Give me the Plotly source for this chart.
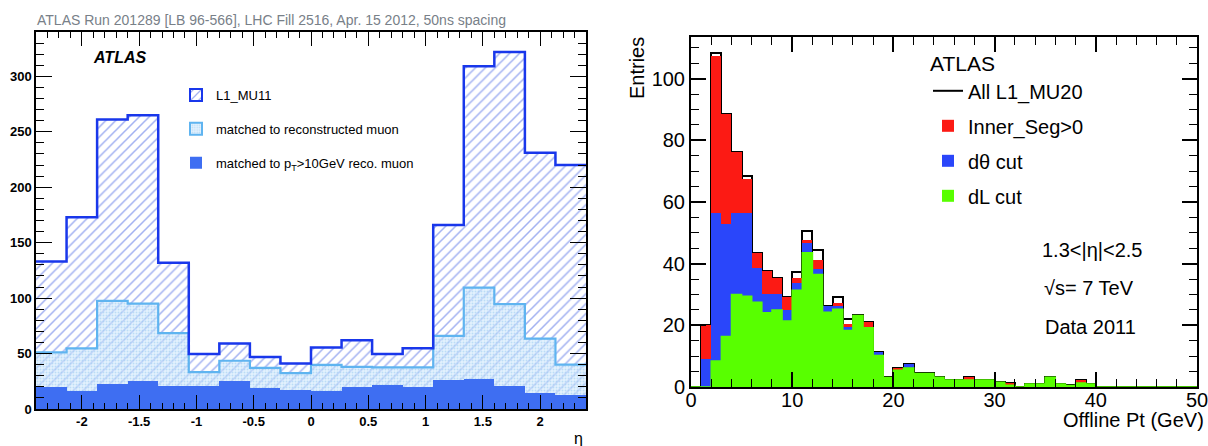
import numpy as np
import plotly.graph_objects as go

# ---------------- Left panel data (eta distribution) ----------------
eta_edges = np.linspace(-2.4, 2.4, 19)
l1_mu11 = [133, 173, 261, 265, 132, 49.5, 59, 47, 41, 55.5, 62, 49.5, 54.7, 166, 309, 322, 231, 220]
matched_reco = [51, 54.6, 97.5, 95, 68.5, 33.3, 43.5, 37, 32.4, 39.8, 38, 37.5, 37.5, 66, 109.5, 94.5, 63.5, 40]
matched_pt10 = [20, 16, 23, 25, 20.5, 20.5, 25, 18.5, 17, 16, 20, 21.5, 19.5, 26, 27, 21, 14, 12.5]
eta_tickvals = [-2, -1.5, -1, -0.5, 0, 0.5, 1, 1.5, 2]
eta_ticktext = ["-2", "-1.5", "-1", "-0.5", "0", "0.5", "1", "1.5", "2"]

# ---------------- Right panel data (offline pT) ----------------
pt_edges = np.arange(0, 51)
all_l1_mu20 = [0, 20.2, 108.3, 88.4, 76.2, 68.3, 43.5, 37.5, 35.3, 29.1,
               37.4, 50.5, 44.5, 26.4, 29.3, 22, 23.2, 21.2, 11.2, 3.1,
               6.2, 7.3, 4.4, 4.4, 3.2, 2.3, 2.3, 3.2, 2.3, 2.3,
               1.5, 1.3, 0, 1, 1, 3.2, 1, 0.5, 2.4, 1,
               0, 0, 0, 0, 0, 0, 0, 0, 0, 0]
inner_seg = [0, 20.2, 107.5, 88.4, 76.2, 67.4, 43.5, 37.5, 35.3, 29.1,
             35.3, 47.6, 41.3, 26.4, 27.1, 20.4, 23.2, 21.2, 11.2, 3.1,
             6.2, 7.3, 4.4, 4.4, 3.2, 2.3, 2.3, 3.2, 2.3, 2.3,
             1.5, 1.3, 0, 1, 1, 3.2, 1, 0.5, 2.4, 1,
             0, 0, 0, 0, 0, 0, 0, 0, 0, 0]
dtheta_cut = [0, 9.1, 56.5, 53, 56.5, 56.5, 38.5, 30.3, 30.3, 25,
              33.6, 46.6, 38.4, 26.4, 26.4, 19.3, 23.2, 19.2, 11.2, 3.1,
              5.4, 7.3, 4.4, 4.4, 3.2, 2.3, 2.3, 2.3, 2.3, 2.3,
              1.5, 0.6, 0, 1, 1, 3.2, 1, 0.5, 1.3, 1,
              0, 0, 0, 0, 0, 0, 0, 0, 0, 0]
dl_cut = [0, 0, 8.4, 16.4, 30, 29.4, 27.5, 24.1, 25, 21.4,
          31.4, 43.5, 36.5, 24.2, 25.2, 18.3, 23.2, 19.2, 10.2, 3.1,
          5.4, 6.2, 4.4, 4.4, 3.2, 2.3, 2.3, 2.3, 2.3, 2.3,
          1.5, 0.6, 0, 1, 1, 3.2, 1, 0.5, 1.3, 1,
          0, 0, 0, 0, 0, 0, 0, 0, 0, 0]

# ---------------- styling ----------------
W, H = 1208, 446
FONT = "Liberation Sans, Arial, Helvetica, sans-serif"
L1_LINE = "rgb(25,55,235)"
HATCH = "rgb(70,100,228)"
RECO_LINE = "rgb(95,180,240)"
RECO_DOT = "rgb(150,200,240)"
RECO_BG = "rgba(205,230,250,0.55)"
SOLID = "rgb(62,110,242)"
RED = "rgb(252,26,20)"
BLUE = "rgb(42,70,250)"
GREEN = "rgb(88,255,0)"


def px_x(p):
    return p / W


def px_y(p):
    return 1 - p / H


eta_centers = (eta_edges[:-1] + eta_edges[1:]) / 2
eta_w = float(eta_edges[1] - eta_edges[0])
pt_centers = (pt_edges[:-1] + pt_edges[1:]) / 2


def step_xy(edges, vals):
    return list(edges), list(vals) + [vals[-1]]


fig = go.Figure()

# ---- left panel bars ----
hatch_pattern = dict(shape="/", fgcolor=HATCH, bgcolor="white", size=7, solidity=0.22)
dot_pattern = dict(shape=".", fgcolor=RECO_DOT, bgcolor=RECO_BG, size=3, solidity=0.35)

fig.add_trace(go.Bar(x=eta_centers, y=l1_mu11, width=eta_w, xaxis="x", yaxis="y",
                     marker=dict(color="white", pattern=hatch_pattern, line=dict(width=0)),
                     showlegend=False, hoverinfo="skip"))
fig.add_trace(go.Bar(x=eta_centers, y=matched_reco, width=eta_w, xaxis="x", yaxis="y",
                     marker=dict(color=RECO_DOT, pattern=dot_pattern, line=dict(width=0)),
                     showlegend=False, hoverinfo="skip"))
fig.add_trace(go.Bar(x=eta_centers, y=matched_pt10, width=eta_w, xaxis="x", yaxis="y",
                     marker=dict(color=SOLID, line=dict(width=0)),
                     name="matched to p<sub>T</sub>>10GeV reco. muon",
                     legend="legend", legendgroup="c", legendrank=3, showlegend=True))
sx, sy = step_xy(eta_edges, matched_reco)
fig.add_trace(go.Scatter(x=sx, y=sy, mode="lines", line=dict(shape="hv", color=RECO_LINE, width=2.2),
                         xaxis="x", yaxis="y", showlegend=False, hoverinfo="skip"))
sx, sy = step_xy(eta_edges, l1_mu11)
fig.add_trace(go.Scatter(x=sx, y=sy, mode="lines", line=dict(shape="hv", color=L1_LINE, width=2.5),
                         xaxis="x", yaxis="y", showlegend=False, hoverinfo="skip"))
# legend keys for left panel
fig.add_trace(go.Bar(x=[None], y=[None], xaxis="x", yaxis="y", name="L1_MU11",
                     marker=dict(color="white", pattern=hatch_pattern, line=dict(color=L1_LINE, width=2)),
                     legend="legend", legendgroup="a", legendrank=1))
fig.add_trace(go.Bar(x=[None], y=[None], xaxis="x", yaxis="y", name="matched to reconstructed muon",
                     marker=dict(color=RECO_DOT, pattern=dot_pattern, line=dict(color=RECO_LINE, width=2)),
                     legend="legend", legendgroup="b", legendrank=2))

# ---- right panel bars ----
fig.add_trace(go.Bar(x=pt_centers, y=all_l1_mu20, width=1, xaxis="x2", yaxis="y2",
                     marker=dict(color="rgba(0,0,0,0)", line=dict(color="black", width=2)),
                     showlegend=False, hoverinfo="skip"))
fig.add_trace(go.Bar(x=pt_centers, y=inner_seg, width=1, xaxis="x2", yaxis="y2",
                     marker=dict(color=RED, line=dict(width=0)), name="Inner_Seg>0",
                     legend="legend2", legendgroup="r2", legendrank=2))
fig.add_trace(go.Bar(x=pt_centers, y=dtheta_cut, width=1, xaxis="x2", yaxis="y2",
                     marker=dict(color=BLUE, line=dict(width=0)), name="dθ cut",
                     legend="legend2", legendgroup="r3", legendrank=3))
fig.add_trace(go.Bar(x=pt_centers, y=dl_cut, width=1, xaxis="x2", yaxis="y2",
                     marker=dict(color=GREEN, line=dict(width=0)), name="dL cut",
                     legend="legend2", legendgroup="r4", legendrank=4))
sx, sy = step_xy(pt_edges, dl_cut)
fig.add_trace(go.Scatter(x=sx, y=sy, mode="lines", line=dict(shape="hv", color=GREEN, width=1.5),
                         xaxis="x2", yaxis="y2", showlegend=False, hoverinfo="skip"))
fig.add_trace(go.Scatter(x=[None], y=[None], mode="lines", line=dict(color="black", width=2),
                         name="All L1_MU20", xaxis="x2", yaxis="y2",
                         legend="legend2", legendgroup="r1", legendrank=1))

axis_common = dict(showgrid=False, zeroline=False, showline=True, linecolor="black",
                   mirror="allticks", ticks="inside", tickcolor="black", automargin=False)

fig.update_layout(
    width=W, height=H, margin=dict(l=0, r=0, t=0, b=0, autoexpand=False),
    paper_bgcolor="white", plot_bgcolor="white",
    barmode="overlay", bargap=0,
    font=dict(family=FONT, color="black"),
    xaxis=dict(domain=[px_x(36), px_x(586)], range=[-2.4, 2.4], anchor="y",
               tickmode="array", tickvals=eta_tickvals, ticktext=eta_ticktext,
               ticklen=14, tickwidth=1.3, linewidth=1.5,
               minor=dict(ticks="inside", tickmode="linear", tick0=0, dtick=0.1, ticklen=6,
                          tickwidth=1, tickcolor="black"),
               tickfont=dict(size=13, weight="bold", family=FONT), **axis_common),
    yaxis=dict(domain=[px_y(409), px_y(32)], range=[0, 340], anchor="x",
               tick0=0, dtick=50, ticklen=16, tickwidth=1.3, linewidth=1.5,
               minor=dict(ticks="inside", dtick=10, ticklen=8, tickwidth=1, tickcolor="black"),
               tickfont=dict(size=13, weight="bold", family=FONT), **axis_common),
    xaxis2=dict(domain=[px_x(691), px_x(1197)], range=[0, 50], anchor="y2",
                tick0=0, dtick=10, ticklen=15, tickwidth=1.5, linewidth=2,
                ticklabelstandoff=-6, ticklabeloverflow="allow",
                minor=dict(ticks="inside", dtick=2, ticklen=8, tickwidth=1.3, tickcolor="black"),
                tickfont=dict(size=20, family=FONT), **axis_common),
    yaxis2=dict(domain=[px_y(387), px_y(37)], range=[0, 113.5], anchor="x2",
                tick0=0, dtick=20, ticklen=15, tickwidth=1.5, linewidth=2,
                minor=dict(ticks="inside", dtick=5, ticklen=8, tickwidth=1.3, tickcolor="black"),
                tickfont=dict(size=20, family=FONT), **axis_common),
    legend=dict(x=px_x(176), y=px_y(80), xanchor="left", yanchor="top",
                bgcolor="rgba(0,0,0,0)", font=dict(size=13, family=FONT),
                traceorder="grouped", tracegroupgap=14, itemwidth=30),
    legend2=dict(x=px_x(928), y=px_y(44), xanchor="left", yanchor="top",
                 bgcolor="rgba(0,0,0,0)", font=dict(size=20, family=FONT),
                 title=dict(text="ATLAS", font=dict(size=21, family=FONT)),
                 traceorder="grouped", tracegroupgap=6, itemwidth=30),
    annotations=[
        dict(text="ATLAS Run 201289 [LB 96-566], LHC Fill 2516, Apr. 15 2012, 50ns spacing",
             x=px_x(35), y=px_y(20), xref="paper", yref="paper", xanchor="left", yanchor="middle",
             showarrow=False, font=dict(size=14, color="rgb(120,128,136)", family=FONT)),
        dict(text="<b><i>ATLAS</i></b>", x=px_x(120), y=px_y(58), xref="paper", yref="paper",
             xanchor="center", yanchor="middle", showarrow=False, font=dict(size=16, family=FONT)),
        dict(text="η", x=px_x(578), y=px_y(438), xref="paper", yref="paper",
             xanchor="center", yanchor="middle", showarrow=False, font=dict(size=16, family=FONT)),
        dict(text="Entries", x=px_x(637), y=px_y(68), xref="paper", yref="paper", textangle=-90,
             xanchor="center", yanchor="middle", showarrow=False, font=dict(size=20, family=FONT)),
        dict(text="Offline Pt (GeV)", x=px_x(1206), y=px_y(420), xref="paper", yref="paper",
             xanchor="right", yanchor="middle", showarrow=False, font=dict(size=20, family=FONT)),
        dict(text="1.3<|η|<2.5", x=px_x(1092), y=px_y(250), xref="paper", yref="paper",
             xanchor="center", yanchor="middle", showarrow=False, font=dict(size=20, family=FONT)),
        dict(text="√s= 7 TeV", x=px_x(1089), y=px_y(288), xref="paper", yref="paper",
             xanchor="center", yanchor="middle", showarrow=False, font=dict(size=20, family=FONT)),
        dict(text="Data 2011", x=px_x(1090), y=px_y(327), xref="paper", yref="paper",
             xanchor="center", yanchor="middle", showarrow=False, font=dict(size=20, family=FONT)),
    ],
)

fig.write_html("out.html")
